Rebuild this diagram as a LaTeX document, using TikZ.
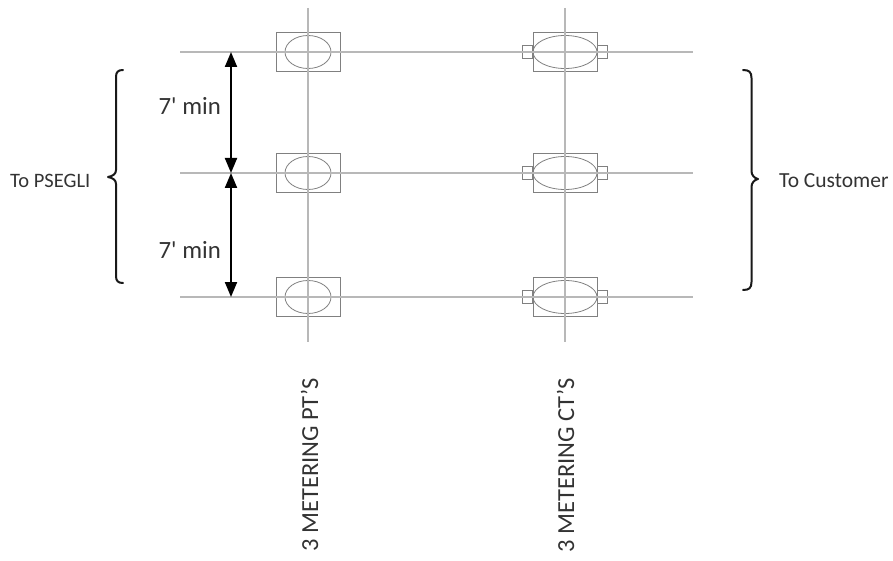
\documentclass[tikz,border=0pt]{standalone}
\usepackage{fontspec}
\setmainfont{Carlito}
\usetikzlibrary{shapes.geometric,arrows.meta}
\definecolor{wire}{gray}{0.72}
\definecolor{ink}{gray}{0.2}
\tikzset{
  x=1pt,y=-1pt,
  wireline/.style={draw=wire,line width=1.2pt},
  outline/.style={draw=black!50,line width=0.8pt,inner sep=0pt},
  housing/.style={outline,rectangle,minimum width=64pt,minimum height=39.5pt},
  ptcore/.style={outline,ellipse,minimum width=46pt,minimum height=33pt},
  ctcore/.style={outline,ellipse,minimum width=64pt,minimum height=33pt},
  terminal/.style={outline,rectangle,minimum width=10.5pt,minimum height=13pt},
  dimarrow/.style={draw=black,line width=2pt,{Triangle[width=12pt,length=15pt]}-{Triangle[width=12pt,length=15pt]}},
  bracket/.style={draw=black!90,line width=2pt,line cap=round,line join=round},
  label/.style={text=ink,inner sep=0pt,font=\fontsize{20.5}{22}\selectfont},
  custlabel/.style={text=ink,inner sep=0pt,font=\fontsize{21.5}{23}\selectfont},
  dimlabel/.style={text=ink,inner sep=0pt,font=\fontsize{24.8}{26}\selectfont},
  sidelabel/.style={text=ink,inner sep=0pt,rotate=90,font=\fontsize{24.5}{26}\selectfont}
}
\begin{document}
\begin{tikzpicture}
\useasboundingbox (0,0) rectangle (893,561);
\coordinate (wa) at (180,52);  \coordinate (wb) at (693,52);
\coordinate (wc) at (180,173); \coordinate (wd) at (693,173);
\coordinate (we) at (180,297); \coordinate (wf) at (693,297);
\coordinate (va) at (308,8);   \coordinate (vb) at (308,342);
\coordinate (vc) at (565,8);   \coordinate (vd) at (565,342);
\foreach \n/\y in {a/52,b/173,c/297}{
  \node[housing] (pt\n) at (308.5,\y) {};
  \node[ptcore] (pc\n) at (308,\y) {};
  \node[terminal] (tl\n) at (527.5,\y) {};
  \node[terminal] (tr\n) at (602.5,\y) {};
  \node[housing] (ct\n) at (565,\y) {};
  \node[ctcore] (cc\n) at (565,\y) {};
}
\draw[wireline] (wa) -- (wb);
\draw[wireline] (wc) -- (wd);
\draw[wireline] (we) -- (wf);
\draw[wireline] (va) -- (vb);
\draw[wireline] (vc) -- (vd);
\coordinate (da) at (231,52);
\coordinate (db) at (231,173);
\coordinate (dc) at (231,297);
\draw[dimarrow] (da) -- (db);
\draw[dimarrow] (db) -- (dc);
\node[dimlabel,anchor=east] (min1) at (221,106) {7\textquotesingle{} min};
\node[dimlabel,anchor=east] (min2) at (221,250) {7\textquotesingle{} min};
\draw[bracket] (123,70) .. controls (118,70) and (116,72) .. (116,77)
  -- (116,170) .. controls (116,174) and (113,176) .. (108,177)
  .. controls (113,178) and (116,180) .. (116,184)
  -- (116,276) .. controls (116,281) and (118,283) .. (123,283);
\draw[bracket] (743,70) .. controls (749,70) and (751.5,72) .. (751.5,78)
  -- (751.5,171) .. controls (751.5,175) and (754,178) .. (758,179)
  .. controls (754,180) and (751.5,183) .. (751.5,187)
  -- (751.5,282) .. controls (751.5,288) and (749,290) .. (743,290);
\node[label,anchor=west] (psegli) at (10,181) {To PSEGLI};
\node[custlabel,anchor=west] (cust) at (779,181) {To Customer};
\node[sidelabel,anchor=east] (ptl) at (309.5,378) {3 METERING PT’S};
\node[sidelabel,anchor=east] (ctl) at (565.5,378) {3 METERING CT’S};
\end{tikzpicture}
\end{document}
